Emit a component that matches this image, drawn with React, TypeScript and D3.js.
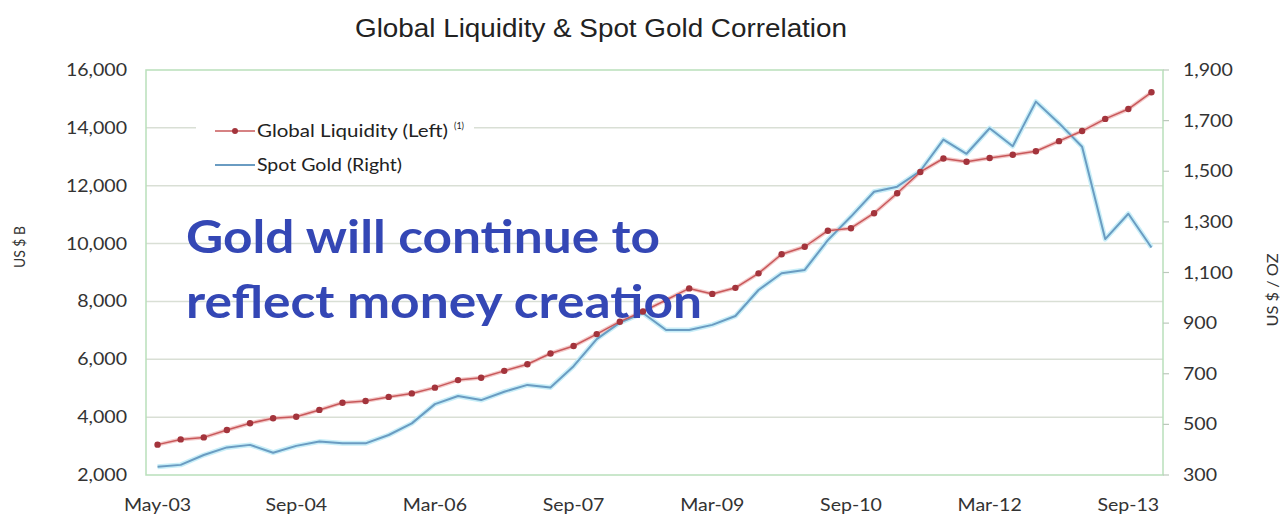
import React from "react";
import * as d3 from "d3";

const liquidity = [
  3050, 3230, 3300, 3555, 3790, 3960, 4015, 4250, 4500, 4560, 4700, 4820, 5020, 5280, 5360,
  5600, 5830, 6200, 6460, 6870, 7300, 7650, 8050, 8450, 8260, 8470, 8970, 9630, 9890, 10445,
  10530, 11050, 11740, 12475, 12940, 12830, 12960, 13070, 13190, 13540, 13890, 14310, 14650, 15230,
];
const gold = [
  333, 340, 379, 409, 419, 388, 415, 432, 425, 425, 458, 504, 580, 612, 596, 629, 656, 646,
  730, 837, 902, 940, 873, 873, 893, 928, 1031, 1097, 1110, 1228, 1321, 1419, 1439, 1501,
  1625, 1569, 1670, 1599, 1775, 1690, 1597, 1232, 1332, 1199,
];
const xTickLabels = ["May-03", "Sep-04", "Mar-06", "Sep-07", "Mar-09", "Sep-10", "Mar-12", "Sep-13"];
const xTickIndex = [0, 6, 12, 18, 24, 30, 36, 42];
const leftTicks = [2000, 4000, 6000, 8000, 10000, 12000, 14000, 16000];
const rightTicks = [300, 500, 700, 900, 1100, 1300, 1500, 1700, 1900];

const W = 1285, H = 515;
const L = 146, R = 1163, T = 70, B = 475;
const SX = 1.15;

export default function App() {
  const idx = d3.range(liquidity.length);
  const x = d3.scalePoint<number>().domain(idx).range([L, R]).padding(0.5);
  const yL = d3.scaleLinear().domain([2000, 16000]).range([B, T]);
  const yR = d3.scaleLinear().domain([300, 1900]).range([B, T]);
  const fmt = d3.format(",");
  const lineL = d3.line<number>().x((_, i) => x(i)!).y((d) => yL(d));
  const lineR = d3.line<number>().x((_, i) => x(i)!).y((d) => yR(d));
  const font = "Lato, 'Open Sans', sans-serif";

  const T2 = (props: { x: number; y: number; anchor?: string; size: number; fill?: string; children: React.ReactNode }) => (
    <text
      transform={`translate(${props.x},${props.y}) scale(${SX},1)`}
      textAnchor={props.anchor || "start"}
      fontSize={props.size}
      fontFamily={font}
      fill={props.fill || "#333"}
    >
      {props.children}
    </text>
  );

  return (
    <svg width={W} height={H} style={{ position: "absolute", left: 0, top: 0, background: "#fff" }}>
      <rect x={0} y={0} width={W} height={H} fill="#fff" />
      <text x={601} y={37} textAnchor="middle" fontSize={25} fontFamily="'Liberation Sans', Arial, sans-serif" fill="#222" textLength={492} lengthAdjust="spacingAndGlyphs">
        Global Liquidity &amp; Spot Gold Correlation
      </text>
      {/* gridlines */}
      {leftTicks.slice(1, -1).map((t) => (
        <line key={t} x1={L} x2={R} y1={yL(t)} y2={yL(t)} stroke="#d9dfd5" strokeWidth={1.5} />
      ))}
      {/* border */}
      <rect x={L} y={T} width={R - L} height={B - T} fill="none" stroke="#b9dfbb" strokeWidth={1.5} />
      {/* right ticks */}
      {rightTicks.map((t) => (
        <line key={t} x1={R} x2={R + 6} y1={yR(t)} y2={yR(t)} stroke="#bcc9bc" strokeWidth={1.2} />
      ))}
      {/* left labels */}
      {leftTicks.map((t) => (
        <T2 key={t} x={127} y={yL(t) + 6} anchor="end" size={17}>{fmt(t)}</T2>
      ))}
      {rightTicks.map((t) => (
        <T2 key={t} x={1183} y={yR(t) + 6} size={17}>{fmt(t)}</T2>
      ))}
      {xTickLabels.map((lab, k) => (
        <T2 key={lab} x={x(xTickIndex[k])!} y={511} anchor="middle" size={17}>{lab}</T2>
      ))}
      <text transform="translate(25,247) rotate(-90)" textAnchor="middle" fontSize={15} fontFamily={font} fill="#333" textLength={42} lengthAdjust="spacingAndGlyphs">US $ B</text>
      <text transform="translate(1278,290) rotate(-90)" textAnchor="middle" fontSize={16} fontFamily={font} fill="#333" textLength={73} lengthAdjust="spacingAndGlyphs">US $ / OZ</text>

      {/* series halos */}
      <path d={lineR(gold)!} fill="none" stroke="#c8eef8" strokeWidth={5} strokeLinejoin="round" />
      <path d={lineL(liquidity)!} fill="none" stroke="#f3c9c9" strokeWidth={4} strokeLinejoin="round" />
      <path d={lineR(gold)!} fill="none" stroke="#6a9cc2" strokeWidth={2} strokeLinejoin="round" />
      <path d={lineL(liquidity)!} fill="none" stroke="#c8585a" strokeWidth={1.5} strokeLinejoin="round" />
      {liquidity.map((v, i) => (
        <circle key={i} cx={x(i)!} cy={yL(v)} r={3.2} fill="#a3343c" />
      ))}

      {/* legend */}
      <rect x={196} y={113} width={278} height={64} fill="#fff" />
      <line x1={215} x2={255} y1={131} y2={131} stroke="#c8585a" strokeWidth={1.5} />
      <circle cx={235} cy={131} r={3} fill="#a3343c" />
      <text x={257} y={137} fontSize={18} fontFamily={font} fill="#222" textLength={191} lengthAdjust="spacingAndGlyphs">Global Liquidity (Left)</text>
      <text x={454} y={129} fontSize={9} fontFamily={font} fill="#222">(1)</text>
      <line x1={215} x2={255} y1={165} y2={165} stroke="#6a9cc2" strokeWidth={2} />
      <text x={257} y={171} fontSize={18} fontFamily={font} fill="#222" textLength={145} lengthAdjust="spacingAndGlyphs">Spot Gold (Right)</text>

      {/* annotation */}
      <text x={186} y={253} fontSize={46} fontWeight={700} fontFamily={font} fill="#3447b5" textLength={474} lengthAdjust="spacingAndGlyphs">Gold will continue to</text>
      <text x={186} y={318} fontSize={46} fontWeight={700} fontFamily={font} fill="#3447b5" textLength={516} lengthAdjust="spacingAndGlyphs">reflect money creation</text>
    </svg>
  );
}
